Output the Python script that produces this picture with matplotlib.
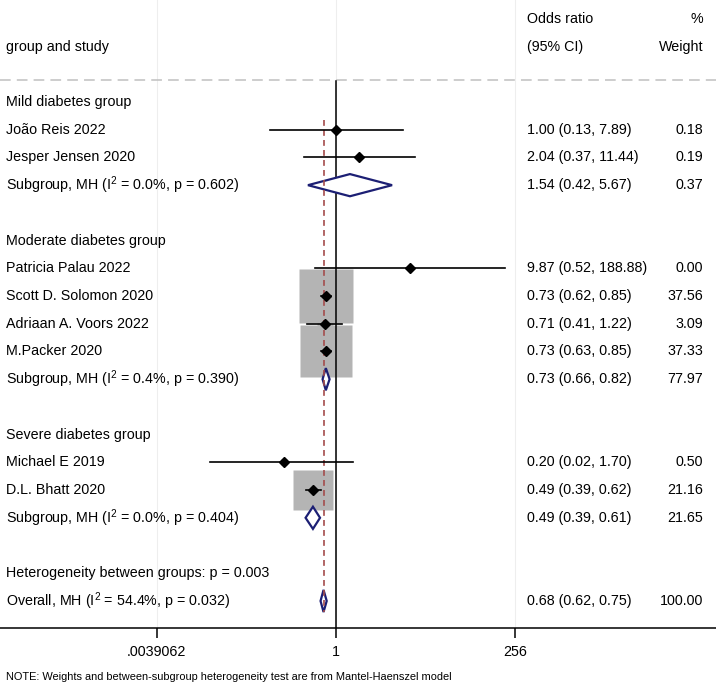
import matplotlib
matplotlib.use("Agg")
import matplotlib.pyplot as plt
import matplotlib.transforms as mtransforms

plt.rcParams['font.family'] = ['Liberation Sans', 'DejaVu Sans']
plt.rcParams['mathtext.fontset'] = 'custom'
plt.rcParams['mathtext.rm'] = 'Liberation Sans'
plt.rcParams['mathtext.default'] = 'regular'

# ---- data ----
groups = ["Mild diabetes group", "Moderate diabetes group", "Severe diabetes group"]
studies = ["João Reis 2022", "Jesper Jensen 2020",
           "Patricia Palau 2022", "Scott D. Solomon 2020", "Adriaan A. Voors 2022", "M.Packer 2020",
           "Michael E 2019", "D.L. Bhatt 2020"]
study_group = [0, 0, 1, 1, 1, 1, 2, 2]
odds = [1.00, 2.04, 9.87, 0.73, 0.71, 0.73, 0.20, 0.49]
ci_lo = [0.13, 0.37, 0.52, 0.62, 0.41, 0.63, 0.02, 0.39]
ci_hi = [7.89, 11.44, 188.88, 0.85, 1.22, 0.85, 1.70, 0.62]
weights = [0.18, 0.19, 0.00, 37.56, 3.09, 37.33, 0.50, 21.16]

sub_odds = [1.54, 0.73, 0.49]
sub_lo = [0.42, 0.66, 0.39]
sub_hi = [5.67, 0.82, 0.61]
sub_w = [0.37, 77.97, 21.65]
sub_i2 = ["0.0%", "0.4%", "0.0%"]
sub_p = ["0.602", "0.390", "0.404"]

overall = (0.68, 0.62, 0.75, 100.00)
overall_i2, overall_p = "54.4%", "0.032"
het_p = "0.003"

xticks = [2 ** -8, 1, 256]
xtick_labels = [".0039062", "1", "256"]

navy = '#1c1f74'
fs = 10.3

fig = plt.figure(figsize=(7.16, 6.90), dpi=100)
ax = fig.add_axes([0, 62 / 690, 1, 628 / 690])
ax.set_xscale('log', base=2)
ax.set_xlim(2 ** -15, 2 ** ((716 - 336) / 22.4))
ax.set_ylim(18.975, -3.68)

# faint grid at ticks
for t in xticks:
    ax.axvline(t, color='#eeeeee', lw=0.8, zorder=0)

tr = mtransforms.blended_transform_factory(ax.transAxes, ax.transData)
xl, xor, xw = 6 / 716, 527 / 716, 703 / 716

def row_text(y, label, ortxt=None, wtxt=None):
    ax.text(xl, y, label, transform=tr, va='center', ha='left', fontsize=fs)
    if ortxt:
        ax.text(xor, y, ortxt, transform=tr, va='center', ha='left', fontsize=fs)
    if wtxt:
        ax.text(xw, y, wtxt, transform=tr, va='center', ha='right', fontsize=fs)

# headers
ax.text(xl, -2, "group and study", transform=tr, va='center', fontsize=fs)
ax.text(xor, -3.0, "Odds ratio", transform=tr, va='center', fontsize=fs)
ax.text(xor, -2, "(95% CI)", transform=tr, va='center', fontsize=fs)
ax.text(xw, -3.0, "%", transform=tr, va='center', ha='right', fontsize=fs)
ax.text(xw, -2, "Weight", transform=tr, va='center', ha='right', fontsize=fs)
ax.axhline(-0.79, color='#c0c0c0', lw=1.1, ls=(0, (7, 4)))

# reference lines
ax.plot([1, 1], [-0.77, 18.975], color='black', lw=1.1, zorder=2)
ax.plot([overall[0]] * 2, [0.65, 18.4], color='#a44c4c', lw=1.2, ls=(0, (3.5, 2.5)), zorder=4)

def diamond(y, est, lo, hi, h=0.4):
    ax.fill([lo, est, hi, est, lo], [y, y - h, y, y + h, y],
            facecolor='white', edgecolor=navy, lw=1.6, zorder=3)

row = 0
for g, gname in enumerate(groups):
    row_text(row, gname)
    row += 1
    for i in range(len(studies)):
        if study_group[i] != g:
            continue
        if weights[i] > 0:
            ax.plot(odds[i], row, marker='s', ms=6.24 * weights[i] ** 0.5,
                    color='#b4b4b4', mec='none', zorder=1)
        ax.plot([ci_lo[i], ci_hi[i]], [row, row], color='black', lw=1.2, zorder=5)
        ax.plot(odds[i], row, marker='D', ms=5, color='black', zorder=6)
        row_text(row, studies[i], f"{odds[i]:.2f} ({ci_lo[i]:.2f}, {ci_hi[i]:.2f})", f"{weights[i]:.2f}")
        row += 1
    diamond(row, sub_odds[g], sub_lo[g], sub_hi[g])
    row_text(row, f"Subgroup, MH (I$^{{2}}$ = {sub_i2[g]}, p = {sub_p[g]})",
             f"{sub_odds[g]:.2f} ({sub_lo[g]:.2f}, {sub_hi[g]:.2f})", f"{sub_w[g]:.2f}")
    row += 2

row_text(row, f"Heterogeneity between groups: p = {het_p}")
row += 1
diamond(row, overall[0], overall[1], overall[2])
row_text(row, f"Overall, MH (I$^{{2}}$ = {overall_i2}, p = {overall_p})",
         f"{overall[0]:.2f} ({overall[1]:.2f}, {overall[2]:.2f})", f"{overall[3]:.2f}")

ax.set_xticks(xticks)
ax.set_xticklabels(xtick_labels, fontsize=fs)
ax.minorticks_off()
ax.tick_params(axis='x', length=7, width=1.1, pad=5)
ax.set_yticks([])
for s in ['top', 'left', 'right']:
    ax.spines[s].set_visible(False)
ax.spines['bottom'].set_linewidth(1.1)

fig.text(6 / 716, 1 - 677 / 690, "NOTE: Weights and between-subgroup heterogeneity test are from Mantel-Haenszel model",
         fontsize=7.9, va='center', ha='left')

fig.savefig("out.png", dpi=100)
